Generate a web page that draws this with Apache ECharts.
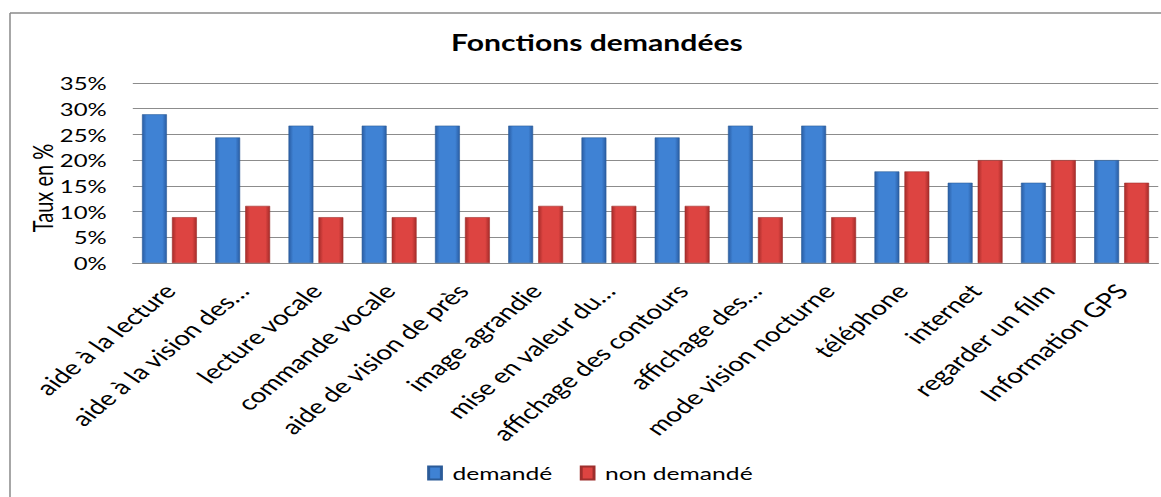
<!DOCTYPE html>
<html>
<head>
<meta charset="utf-8">
<script src="https://cdn.jsdelivr.net/npm/echarts@6/dist/echarts.min.js"></script>
<style>
html,body{margin:0;padding:0;background:#fff;overflow:hidden;width:1161px;height:497px;}
#c{width:848px;height:497px;transform:scaleX(1.3691);transform-origin:0 0;}
</style>
</head>
<body>
<div id="c"></div>
<script>
const categories = ["aide à la lecture","aide à la vision des…","lecture vocale","commande vocale","aide de vision de près","image agrandie","mise en valeur du…","affichage des contours","affichage des…","mode vision nocturne","téléphone","internet","regarder un film","Information GPS"];
const demande = [28.9,24.4,26.7,26.7,26.7,26.7,24.4,24.4,26.7,26.7,17.8,15.6,15.6,20.0];
const nonDemande = [8.9,11.1,8.9,8.9,8.9,11.1,11.1,11.1,8.9,8.9,17.8,20.0,20.0,15.6];
const seriesNames = ["demandé","non demandé"];
const yTicks = {min:0,max:35,interval:5};

const FONT = "Lato, 'Open Sans', sans-serif";
function grad(edge, mid){
  return new echarts.graphic.LinearGradient(0,0,1,0,[
    {offset:0,color:edge},{offset:0.18,color:mid},{offset:0.82,color:mid},{offset:1,color:edge}
  ]);
}
const chart = echarts.init(document.getElementById('c'), null, {renderer:'svg'});
chart.setOption({
  animation:false,
  backgroundColor:'#fff',
  title:{text:'Fonctions demandées',left:431,textAlign:'center',top:27,
    textStyle:{fontFamily:FONT,fontWeight:'bold',fontSize:22,color:'#000'}},
  legend:{data:seriesNames,left:307,top:459,itemWidth:9.5,itemHeight:13,itemGap:20,
    icon:'rect',textStyle:{fontFamily:FONT,fontSize:18,color:'#000',padding:[0,0,0,3]}},
  grid:{left:97,right:2,top:83,bottom:234,containLabel:false},
  xAxis:{type:'category',data:categories,
    axisLine:{lineStyle:{color:'#8c8c8c'}},axisTick:{show:false},
    axisLabel:{interval:0,rotate:48,margin:24,fontFamily:FONT,fontSize:20.5,color:'#000'}},
  yAxis:{type:'value',min:yTicks.min,max:yTicks.max,interval:yTicks.interval,
    name:'Taux en %',nameLocation:'middle',nameGap:56,nameRotate:90,nameMoveOverlap:false,
    nameTextStyle:{fontFamily:FONT,fontSize:20,color:'#000',padding:[0,30,0,0]},
    axisLine:{show:false},axisTick:{show:false},
    axisLabel:{formatter:'{value}%',margin:19,fontFamily:FONT,fontSize:17.5,color:'#000'},
    splitLine:{lineStyle:{color:'#8c8c8c',width:1}}},
  series:[
    {name:seriesNames[0],type:'bar',data:demande,barGap:'20%',barCategoryGap:'25%',
      itemStyle:{color:grad('#2a5da3','#3f82d4'),borderColor:'#2b5b98',borderWidth:0.5}},
    {name:seriesNames[1],type:'bar',data:nonDemande,
      itemStyle:{color:grad('#a62c2a','#dd4441'),borderColor:'#9e2f2d',borderWidth:0.5}}
  ],
  graphic:[
    {type:'line',shape:{x1:7.3,y1:13,x2:848,y2:13},style:{stroke:'#8a8a8a',lineWidth:1.5},silent:true},
    {type:'line',shape:{x1:7.3,y1:13,x2:7.3,y2:497},style:{stroke:'#8a8a8a',lineWidth:1.1},silent:true}
  ]
});
</script>
</body>
</html>
